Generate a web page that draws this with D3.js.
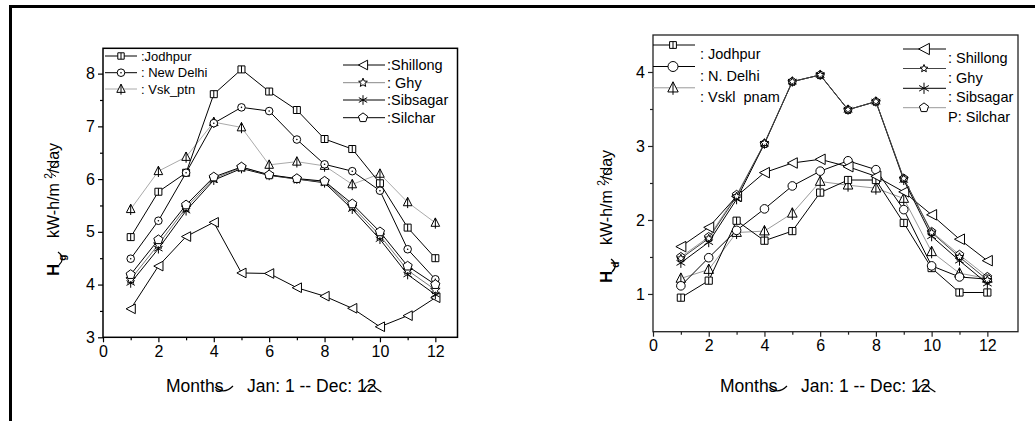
<!DOCTYPE html>
<html>
<head>
<meta charset="utf-8">
<title>Monthly Hg and Hd</title>
<script src="https://cdnjs.cloudflare.com/ajax/libs/d3/7.8.5/d3.min.js"></script>
<style>
body { margin: 0; background: #fff; }
text { font-family: 'Liberation Sans', Arial, sans-serif; fill: #000; white-space: pre; }
</style>
</head>
<body>
<div id="container"></div>
<script>
// ******* Data *******
const months = [1, 2, 3, 4, 5, 6, 7, 8, 9, 10, 11, 12];
const xTicks = [0, 2, 4, 6, 8, 10, 12];
const xMinor = [1, 3, 5, 7, 9, 11];

// global radiation Hg (left)
const hgTicks = [3, 4, 5, 6, 7, 8];
const hgMinor = [3.5, 4.5, 5.5, 6.5, 7.5];
const hgJodhpur  = [4.90, 5.76, 6.12, 7.61, 8.08, 7.66, 7.31, 6.76, 6.57, 5.92, 5.08, 4.50];
const hgNewDelhi = [4.49, 5.21, 6.12, 7.06, 7.36, 7.29, 6.75, 6.28, 6.15, 5.78, 4.67, 4.10];
const hgVsk      = [5.43, 6.15, 6.42, 7.08, 6.98, 6.27, 6.33, 6.25, 5.90, 6.10, 5.56, 5.17];
const hgShillong = [3.54, 4.35, 4.91, 5.18, 4.22, 4.21, 3.94, 3.78, 3.55, 3.20, 3.41, 3.75];
const hgGhy      = [4.10, 4.76, 5.46, 6.01, 6.22, 6.08, 6.00, 5.95, 5.48, 4.93, 4.27, 3.90];
const hgSibsagar = [4.03, 4.68, 5.40, 5.98, 6.20, 6.07, 6.00, 5.93, 5.43, 4.86, 4.19, 3.81];
const hgSilchar  = [4.19, 4.85, 5.51, 6.04, 6.23, 6.08, 6.01, 5.96, 5.53, 5.00, 4.35, 4.00];
const hgLegendA = [":Jodhpur", ": New Delhi", ": Vsk_ptn"];
const hgLegendB = [":Shillong", ": Ghy", ":Sibsagar", ":Silchar"];

// diffuse radiation Hd (right)
const hdTicks = [1, 2, 3, 4];
const hdMinor = [1.5, 2.5, 3.5];
const hdJodhpur  = [0.95, 1.18, 1.99, 1.72, 1.85, 2.37, 2.54, 2.54, 1.96, 1.35, 1.02, 1.02];
const hdNDelhi   = [1.11, 1.49, 1.86, 2.15, 2.46, 2.66, 2.80, 2.68, 2.14, 1.38, 1.23, 1.20];
const hdVsk      = [1.21, 1.33, 1.83, 1.85, 2.09, 2.52, 2.47, 2.43, 2.29, 1.57, 1.28, 1.21];
const hdShillong = [1.64, 1.90, 2.32, 2.64, 2.77, 2.82, 2.72, 2.59, 2.38, 2.07, 1.74, 1.45];
const hdGhy      = [1.48, 1.75, 2.32, 3.04, 3.87, 3.96, 3.49, 3.60, 2.56, 1.83, 1.50, 1.19];
const hdSibsagar = [1.42, 1.70, 2.28, 3.03, 3.87, 3.96, 3.49, 3.60, 2.54, 1.78, 1.45, 1.14];
const hdSilchar  = [1.50, 1.77, 2.34, 3.03, 3.87, 3.96, 3.49, 3.60, 2.56, 1.84, 1.53, 1.23];
const hdLegendA = [": Jodhpur", ": N. Delhi", ": Vskl  pnam"];
const hdLegendB = [": Shillong", ": Ghy", ": Sibsagar", "P: Silchar"];

// ******* SVG *******
const svg = d3.select("#container").append("svg")
    .attr("width", 1035)
    .attr("height", 421);

// outer frame
svg.append("path")
    .attr("d", "M10.5,421V6.5H1035")
    .attr("fill", "none")
    .attr("stroke", "#000")
    .attr("stroke-width", 3);

// ******* Markers *******
function markerPath(type, s) {
  if (type === "square")
    return `M${-s},${-s}h${2*s}v${2*s}h${-2*s}Z M0,${-s}V${s}`;
  if (type === "tri")
    return `M0,${-s*1.15}L${s},${s*0.8}L${-s},${s*0.8}Z M0,${-s*1.15}V${s*1.35}`;
  if (type === "ltri")
    return `M${-s},0L${s},${-s*1.05}L${s},${s*1.05}Z`;
  if (type === "aster") {
    const c = s * 0.87, h = s / 2;
    return `M0,${-s}V${s} M${-c},${-h}L${c},${h} M${-c},${h}L${c},${-h}`;
  }
  if (type === "star" || type === "pent") {
    const n = type === "star" ? 10 : 5;
    const pts = d3.range(n).map(i => {
      const a = -Math.PI / 2 + i * 2 * Math.PI / n;
      const r = (type === "star" && i % 2) ? s * 0.45 : s;
      return [r * Math.cos(a), r * Math.sin(a)];
    });
    return "M" + pts.map(p => p.join(",")).join("L") + "Z";
  }
  return "";
}

function drawMarker(g, type, s, stroke, dot) {
  if (type === "circle") {
    g.append("circle").attr("r", s).attr("fill", "#fff")
      .attr("stroke", stroke).attr("stroke-width", 1);
    if (dot) g.append("circle").attr("r", 0.8).attr("fill", stroke);
  } else {
    g.append("path").attr("d", markerPath(type, s)).attr("fill", "#fff")
      .attr("stroke", stroke).attr("stroke-width", 1);
  }
}

// ******* Charts *******
const charts = [
  {
    box: {l: 103, t: 48.3, r: 457.5, b: 337.3},
    xMax: 12.8, yDom: [3, 8.48], yTicks: hgTicks, yMinor: hgMinor,
    boxWidth: 1.5, axisColor: "#000",
    sub: "g", label: {x: 59, y: 276}, xLabel: 166,
    dot: true,
    series: [
      {v: hgVsk,      type: "tri",    s: 4.3, line: "#aaa"},
      {v: hgJodhpur,  type: "square", s: 3.5, line: "#000"},
      {v: hgNewDelhi, type: "circle", s: 3.8, line: "#000"},
      {v: hgShillong, type: "ltri",   s: 4.6, line: "#000"},
      {v: hgSibsagar, type: "aster",  s: 4.8, line: "#000"},
      {v: hgGhy,      type: "star",   s: 5,   line: "#777"},
      {v: hgSilchar,  type: "pent",   s: 4.8, line: "#000"}
    ],
    legendA: {names: hgLegendA, rows: [56, 72.7, 89], x0: 105, x1: 137, mx: 121, tx: 141, dy: 4.6, size: 13,
              types: ["square", "circle", "tri"], sizes: [3.2, 3.8, 4.2], lines: ["#000", "#000", "#aaa"]},
    legendB: {names: hgLegendB, rows: [65, 82.7, 100, 117.7], x0: 343, x1: 385, mx: 363, tx: 387, dy: 5, size: 14.5,
              types: ["ltri", "star", "aster", "pent"], sizes: [4.6, 4.6, 4.8, 4.8], lines: ["#000", "#888", "#000", "#000"]}
  },
  {
    box: {l: 653, t: 35, r: 1018, b: 331.7},
    xMax: 13.1, yDom: [0.49, 4.5], yTicks: hdTicks, yMinor: hdMinor,
    boxWidth: 1.3, axisColor: "#222",
    sub: "d", label: {x: 612, y: 283}, xLabel: 720,
    dot: false,
    series: [
      {v: hdVsk,      type: "tri",    s: 4.8, line: "#999"},
      {v: hdSilchar,  type: "pent",   s: 4.5, line: "#999"},
      {v: hdJodhpur,  type: "square", s: 3.6, line: "#000"},
      {v: hdNDelhi,   type: "circle", s: 4.3, line: "#000"},
      {v: hdShillong, type: "ltri",   s: 5,   line: "#000"},
      {v: hdSibsagar, type: "aster",  s: 5,   line: "#000"},
      {v: hdGhy,      type: "star",   s: 4.2, line: "#444"}
    ],
    legendA: {names: hdLegendA, rows: [45, 66.5, 87.8], x0: 653, x1: 695, mx: 673, tx: 700, dy: 14, size: 14.5,
              types: ["square", "circle", "tri"], sizes: [3.4, 5, 5.2], lines: ["#000", "#000", "#999"]},
    legendB: {names: hdLegendB, rows: [49, 68.5, 88.3, 107.7], x0: 903, x1: 946, mx: 924, tx: 948, dy: 14, size: 14.5,
              types: ["ltri", "star", "aster", "pent"], sizes: [5.4, 4, 5.6, 4.8], lines: ["#000", "#444", "#000", "#999"]}
  }
];

charts.forEach(c => {
  const b = c.box;
  const x = d3.scaleLinear().domain([0, c.xMax]).range([b.l, b.r]);
  const y = d3.scaleLinear().domain(c.yDom).range([b.b, b.t]);
  const g = svg.append("g");

  // ******* Axes *******
  const fmt = d3.format("d");
  const ax = g.append("g").attr("transform", `translate(0,${b.b})`)
      .call(d3.axisBottom(x).tickValues(xTicks).tickSize(5).tickPadding(3).tickFormat(fmt));
  const axm = g.append("g").attr("transform", `translate(0,${b.b})`)
      .call(d3.axisBottom(x).tickValues(xMinor).tickSize(3).tickFormat(""));
  const ay = g.append("g").attr("transform", `translate(${b.l},0)`)
      .call(d3.axisLeft(y).tickValues(c.yTicks).tickSize(5).tickPadding(3).tickFormat(fmt));
  const aym = g.append("g").attr("transform", `translate(${b.l},0)`)
      .call(d3.axisLeft(y).tickValues(c.yMinor).tickSize(3).tickFormat(""));
  [ax, axm, ay, aym].forEach(a => {
    a.select(".domain").remove();
    a.selectAll("line").attr("stroke", c.axisColor).attr("stroke-width", 1.2);
    a.selectAll("text").attr("font-size", 16).attr("fill", "#000")
      .style("font-family", "'Liberation Sans', Arial, sans-serif");
  });

  g.append("rect")
      .attr("x", b.l).attr("y", b.t)
      .attr("width", b.r - b.l).attr("height", b.b - b.t)
      .attr("fill", "none").attr("stroke", c.axisColor).attr("stroke-width", c.boxWidth);

  // ******* Series *******
  const line = d3.line().x((d, i) => x(months[i])).y(d => y(d));
  c.series.forEach(s => {
    g.append("path").attr("d", line(s.v))
      .attr("fill", "none").attr("stroke", s.line).attr("stroke-width", 1);
    s.v.forEach((d, i) => {
      const m = g.append("g").attr("transform", `translate(${x(months[i])},${y(d)})`);
      drawMarker(m, s.type, s.s, "#000", c.dot);
    });
  });

  // ******* Legends *******
  [c.legendA, c.legendB].forEach(L => {
    L.names.forEach((name, i) => {
      const ry = L.rows[i];
      g.append("line").attr("x1", L.x0).attr("x2", L.x1).attr("y1", ry).attr("y2", ry)
        .attr("stroke", L.lines[i]).attr("stroke-width", 1);
      const m = g.append("g").attr("transform", `translate(${L.mx},${ry})`);
      drawMarker(m, L.types[i], L.sizes[i], "#000", c.dot);
      g.append("text").attr("x", L.tx).attr("y", ry + L.dy)
        .attr("font-size", L.size).text(name);
    });
  });

  // ******* Axis titles *******
  const lab = g.append("g").attr("transform", `translate(${c.label.x},${c.label.y}) rotate(-90)`);
  const t = lab.append("text").attr("font-size", 16);
  t.append("tspan").attr("font-weight", "bold").attr("font-size", 17).text("H");
  t.append("tspan").attr("font-weight", "bold").attr("font-size", 10).attr("dx", 3).attr("dy", 7).text(c.sub);
  t.append("tspan").attr("x", 38).attr("dy", -7).text("kW-h/m ");
  t.append("tspan").attr("font-size", 10).attr("dy", -7).text("2");
  t.append("tspan").attr("dy", 7).text("/day");
  const tEnd = t.node().getComputedTextLength();
  lab.append("path").attr("d", "M24,-1 Q18,7 11,0")
    .attr("fill", "none").attr("stroke", "#000").attr("stroke-width", 1.2);
  lab.append("path").attr("d", `M${tEnd-14},-3 Q${tEnd-8},-14 ${tEnd-4},-6 L${tEnd+2},-2`)
    .attr("fill", "none").attr("stroke", "#000").attr("stroke-width", 1);

  const xl = c.xLabel, base = 392;
  g.append("text").attr("x", xl).attr("y", base).attr("font-size", 17.5).text("Months");
  const jt = g.append("text").attr("x", xl + 81).attr("y", base).attr("font-size", 17.5)
      .text("Jan: 1 -- Dec: 12");
  const jEnd = xl + 81 + jt.node().getComputedTextLength();
  g.append("path").attr("d", `M${xl+49},${base-5} Q${xl+58},${base+3} ${xl+67},${base-6}`)
    .attr("fill", "none").attr("stroke", "#000").attr("stroke-width", 1.2);
  g.append("path").attr("d", `M${jEnd-13},${base-1} C${jEnd-9},${base-9} ${jEnd-3},${base-9} ${jEnd-1},${base-4} L${jEnd+5},${base}`)
    .attr("fill", "none").attr("stroke", "#000").attr("stroke-width", 1.2);
});
</script>
</body>
</html>
